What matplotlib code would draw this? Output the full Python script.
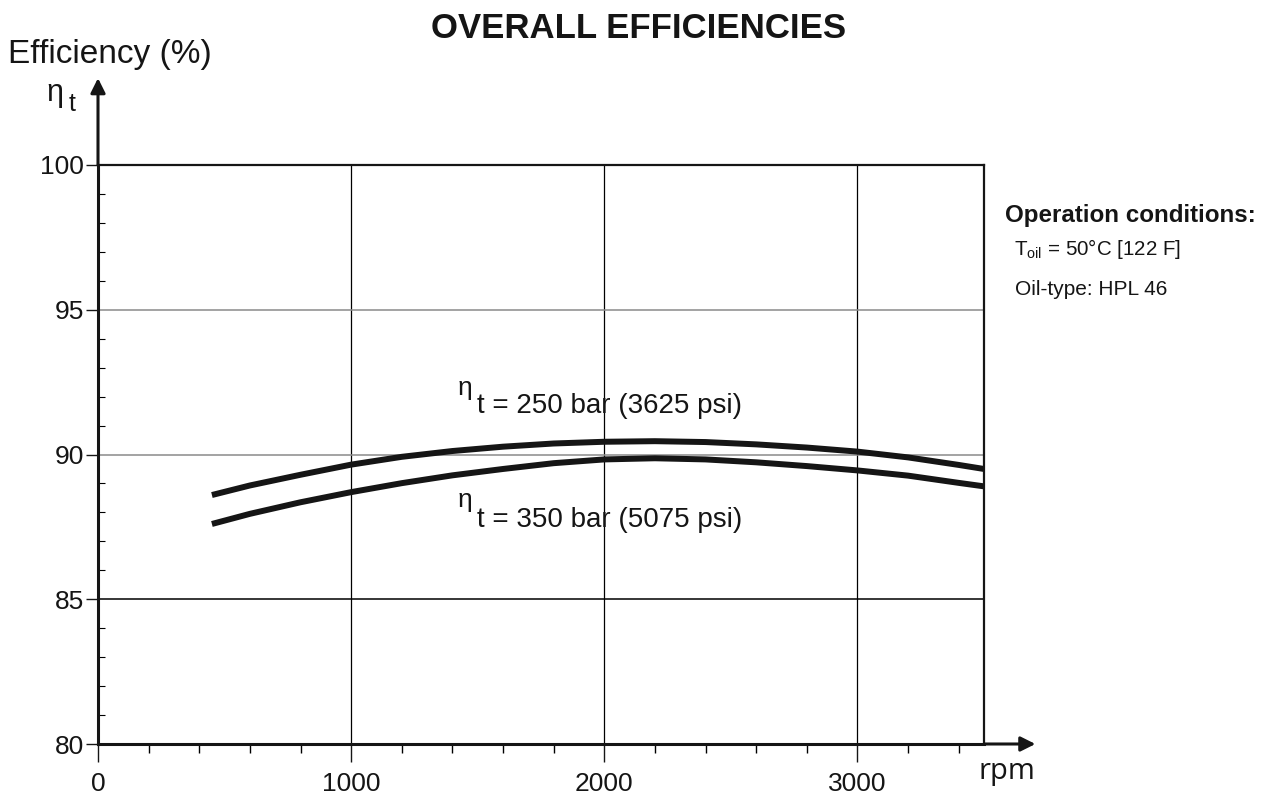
import matplotlib
matplotlib.use('Agg')
import matplotlib.pyplot as plt
import numpy as np

plt.rcParams['font.family'] = ['Liberation Sans', 'DejaVu Sans']

# values
rpm = [450, 600, 800, 1000, 1200, 1400, 1600, 1800, 2000, 2200, 2400,
       2600, 2800, 3000, 3200, 3400, 3500]
eff_250 = [88.60, 88.93, 89.30, 89.65, 89.92, 90.12, 90.27, 90.38, 90.44,
           90.46, 90.43, 90.35, 90.24, 90.10, 89.90, 89.64, 89.50]
eff_350 = [87.60, 87.95, 88.35, 88.70, 89.01, 89.28, 89.50, 89.70, 89.83,
           89.87, 89.83, 89.73, 89.60, 89.45, 89.27, 89.02, 88.90]

x_ticks = [0, 1000, 2000, 3000]
y_ticks = [80, 85, 90, 95, 100]
hgrid_vals = [85, 90, 95]
hgrid_colors = ['black', '#8a8a8a', '#8a8a8a']

W, H = 1268, 796
fig = plt.figure(figsize=(W / 100, H / 100), dpi=100)
ax = fig.add_axes([98 / W, 1 - 744 / H, 886 / W, 579 / H])

ax.set_xlim(0, 3500)
ax.set_ylim(80, 100)

# curves
ax.plot(rpm, eff_250, color='#151515', lw=4.3, solid_capstyle='butt', zorder=5)
ax.plot(rpm, eff_350, color='#151515', lw=4.3, solid_capstyle='butt', zorder=5)

# grid
for v in x_ticks[1:]:
    ax.axvline(v, color='black', lw=0.9, zorder=1)
for v, c in zip(hgrid_vals, hgrid_colors):
    ax.axhline(v, color=c, lw=1.1, zorder=1)

# spines
ax.spines['left'].set_linewidth(2.2)
ax.spines['bottom'].set_linewidth(2.2)
ax.spines['top'].set_linewidth(1.6)
ax.spines['right'].set_linewidth(1.6)
for s in ax.spines.values():
    s.set_color('#151515')

# ticks
ax.set_xticks(x_ticks)
ax.set_xticks(np.arange(200, 3500, 200), minor=True)
ax.set_yticks(y_ticks)
ax.set_yticks(np.arange(81, 100, 1), minor=True)
ax.tick_params(axis='x', which='major', direction='out', length=13, width=1,
               pad=7, labelsize=19, colors='#151515')
ax.tick_params(axis='x', which='minor', direction='out', length=6.5, width=1)
ax.tick_params(axis='y', which='major', direction='out', length=8.5, width=1,
               pad=1.5, labelsize=19, colors='#151515')
ax.tick_params(axis='y', which='minor', direction='in', length=5, width=0.8)

# axis arrows
ax.annotate('', xy=(0, 1.15), xytext=(0, 1.0), xycoords='axes fraction',
            arrowprops=dict(arrowstyle='-|>', color='#151515', lw=2.2,
                            mutation_scale=22, shrinkA=0, shrinkB=0),
            annotation_clip=False)
ax.annotate('', xy=(1.058, 0), xytext=(1.0, 0), xycoords='axes fraction',
            arrowprops=dict(arrowstyle='-|>', color='#151515', lw=2.2,
                            mutation_scale=22, shrinkA=0, shrinkB=0),
            annotation_clip=False)

# curve labels
ax.text(1497, 91.42, 't = 250 bar (3625 psi)', fontsize=20, ha='left',
        va='baseline', color='#151515')
ax.text(1422, 92.07, 'η', fontsize=19, ha='left', va='baseline', color='#151515')
ax.text(1497, 87.51, 't = 350 bar (5075 psi)', fontsize=20, ha='left',
        va='baseline', color='#151515')
ax.text(1422, 88.2, 'η', fontsize=19, ha='left', va='baseline', color='#151515')

# titles and axis labels
fig.text(639 / W, 1 - 29 / H, 'OVERALL EFFICIENCIES', fontsize=25,
         fontweight='bold', ha='center', va='center', color='#151515')
fig.text(8 / W, 1 - 55 / H, 'Efficiency (%)', fontsize=24, ha='left',
         va='center', color='#151515')
fig.text(46 / W, 1 - 93 / H, 'η', fontsize=22, ha='left', va='center',
         color='#151515')
fig.text(69 / W, 1 - 104 / H, 't', fontsize=18, ha='left', va='center',
         color='#151515')
fig.text(1007 / W, 1 - 772 / H, 'rpm', fontsize=21, ha='center', va='center',
         family='Open Sans', color='#151515')

# operation conditions
fig.text(1005 / W, 1 - 222 / H, 'Operation conditions:', fontsize=17.4,
         fontweight='bold', ha='left', va='baseline', color='#151515')
fig.text(1014 / W, 1 - 255 / H, r'T$_{\mathregular{oil}}$ = 50°C [122 F]',
         fontsize=14.8, ha='left', va='baseline', color='#151515')
fig.text(1015 / W, 1 - 295 / H, 'Oil-type: HPL 46', fontsize=15,
         ha='left', va='baseline', color='#151515')

fig.savefig('out.png', dpi=100)
